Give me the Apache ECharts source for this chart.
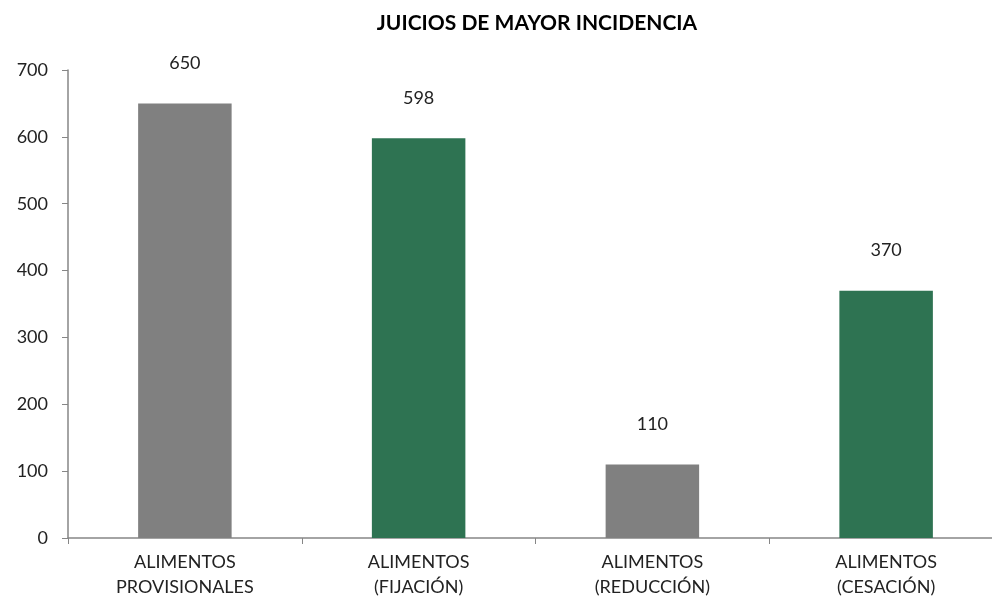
<!DOCTYPE html>
<html lang="es">
<head>
    <meta charset="UTF-8">
    <title>Juicios de mayor incidencia</title>
    <script src="https://cdn.jsdelivr.net/npm/echarts@6/dist/echarts.min.js"></script>
    <style>
        html, body { margin: 0; padding: 0; background: #fff; }
        #main { width: 992px; height: 605px; }
    </style>
</head>
<body>
    <div id="main"></div>
    <script type="text/javascript">
      // datos del grafico
      var categorias = ['ALIMENTOS\nPROVISIONALES', 'ALIMENTOS\n(FIJACIÓN)', 'ALIMENTOS\n(REDUCCIÓN)', 'ALIMENTOS\n(CESACIÓN)'];
      var valores = [650, 598, 110, 370];
      var colores = ['#808080', '#2e7352', '#808080', '#2e7352'];
      var yTicks = [0, 100, 200, 300, 400, 500, 600, 700];

      var fuente = 'Lato';
      var myChart = echarts.init(document.getElementById('main'));

      var datos = [];
      for (var i = 0; i < valores.length; i++) {
        datos.push({ value: valores[i], itemStyle: { color: colores[i] } });
      }

      var option = {
        animation: false,
        title: {
          text: 'JUICIOS DE MAYOR INCIDENCIA',
          left: 532,
          textAlign: 'center',
          top: 8,
          textStyle: { fontFamily: fuente, fontSize: 21, fontWeight: 'bold', color: '#000' }
        },
        // el eje x sigue mas alla del borde derecho, como en el original
        grid: { left: 68, top: 70, width: 935, bottom: 67, containLabel: false, outerBoundsMode: 'none' },
        xAxis: {
          type: 'category',
          data: categorias,
          axisLine: { lineStyle: { color: '#868686', width: 1.5 } },
          axisTick: { show: true, length: 6, lineStyle: { color: '#868686' } },
          axisLabel: { fontFamily: fuente, fontSize: 18, color: '#222', margin: 12, lineHeight: 25 }
        },
        yAxis: {
          type: 'value',
          min: yTicks[0],
          max: yTicks[yTicks.length - 1],
          interval: 100,
          splitLine: { show: false },
          axisLine: { show: true, lineStyle: { color: '#868686', width: 1.5 } },
          axisTick: { show: true, length: 6, lineStyle: { color: '#868686' } },
          axisLabel: { fontFamily: fuente, fontSize: 18, color: '#222', margin: 20 }
        },
        series: [{
          type: 'bar',
          barWidth: '40%',
          data: datos,
          label: {
            show: true,
            position: 'top',
            distance: 31,
            fontFamily: fuente,
            fontSize: 18,
            color: '#222'
          }
        }]
      };
      myChart.setOption(option);
    </script>
</body>
</html>
